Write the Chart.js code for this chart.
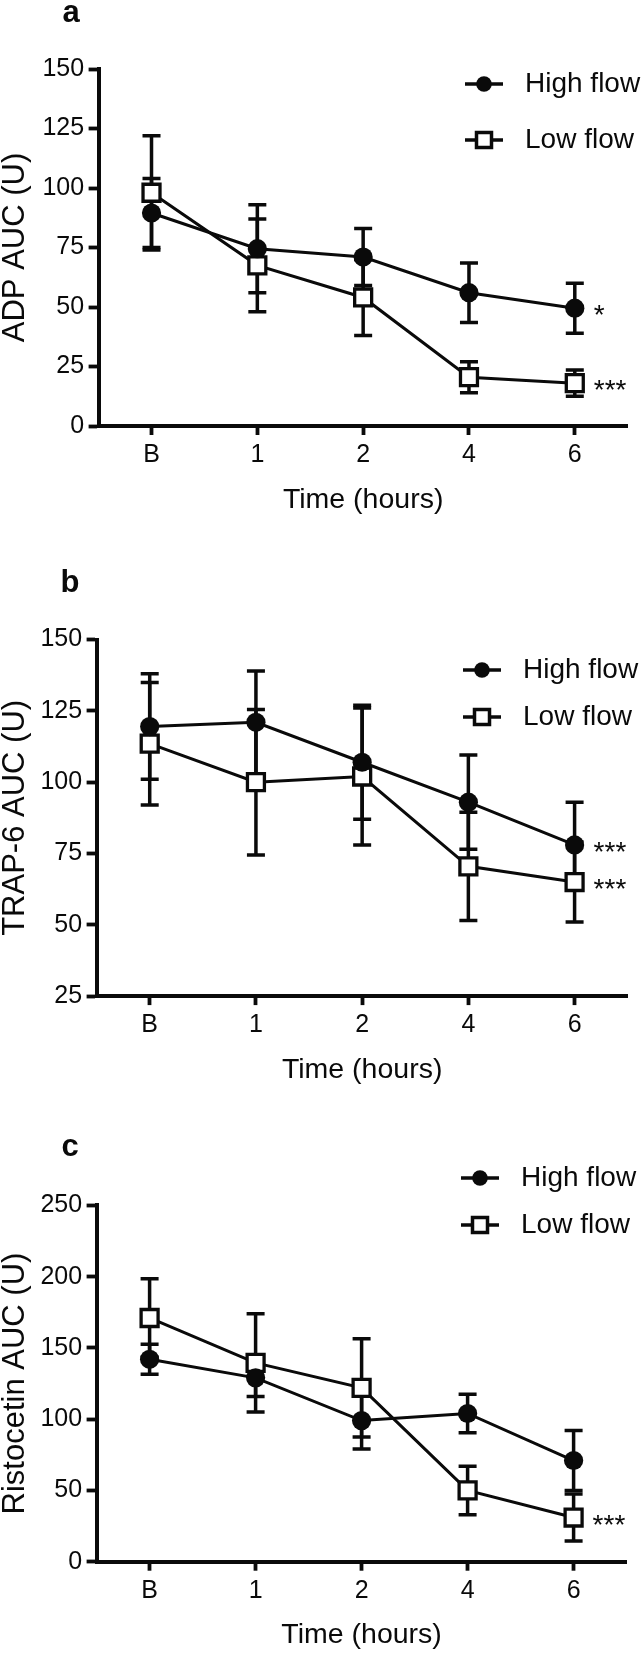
<!DOCTYPE html>
<html>
<head>
<meta charset="utf-8">
<title>Platelet aggregation AUC, high vs low flow</title>
<script src="https://cdn.jsdelivr.net/npm/chart.js@4.4.1/dist/chart.umd.min.js"></script>
<style>
  html, body { margin: 0; padding: 0; background: #fff; }
  #fig { position: relative; width: 643px; height: 1653px; overflow: hidden; }
  #fig canvas { position: absolute; left: 0; }
</style>
</head>
<body>
<div id="fig"></div>
<script>
const INK = '#0a0a0a';
const FONT = "'Liberation Sans', Arial, Helvetica, sans-serif";

// time points
const times = ['B', '1', '2', '4', '6'];

// a: ADP AUC (mean, error)
const adpHigh    = [89.5, 74.5, 71, 56, 49.5];
const adpHighErr = [14.5, 18.5, 12, 12.5, 10.5];
const adpLow     = [98, 67.5, 54, 20.5, 18];
const adpLowErr  = [24, 19.5, 16, 6.5, 5.5];
const adpStars   = ['*', '***'];

// b: TRAP-6 AUC
const trapHigh    = [119.5, 121, 107, 93, 78];
const trapHighErr = [18.5, 18, 20, 16.5, 15];
const trapLow     = [113.5, 100, 102, 70.5, 65];
const trapLowErr  = [21.5, 25.5, 24, 19, 14];
const trapStars   = ['***', '***'];

// c: Ristocetin AUC
const ristoHigh    = [142, 129, 99, 104, 71];
const ristoHighErr = [10.5, 13, 20, 13.5, 21];
const ristoLow     = [171, 139.5, 122, 50, 31];
const ristoLowErr  = [27.5, 34.5, 34.5, 17, 16.5];
const ristoStars   = [null, '***'];

// page layout of the three panels (page pixels)
const PANELS = [
  { letter: 'a', top: 0, height: 530, yTitle: 'ADP AUC (U)', yMin: 0, yMax: 150, yStep: 25,
    high: adpHigh, highErr: adpHighErr, low: adpLow, lowErr: adpLowErr, stars: adpStars,
    area: { left: 98.6, right: 633, top: 69, bottom: 426 }, xTitleY: 500,
    letterX: 71, letterY: 22, legendX: 484, legendY: [84, 140] },
  { letter: 'b', top: 530, height: 570, yTitle: 'TRAP-6 AUC (U)', yMin: 25, yMax: 150, yStep: 25,
    high: trapHigh, highErr: trapHighErr, low: trapLow, lowErr: trapLowErr, stars: trapStars,
    area: { left: 96.6, right: 629.5, top: 639.6, bottom: 996.1 }, xTitleY: 1070,
    letterX: 70, letterY: 592, legendX: 482, legendY: [670, 717] },
  { letter: 'c', top: 1100, height: 553, yTitle: 'Ristocetin AUC (U)', yMin: 0, yMax: 250, yStep: 50,
    high: ristoHigh, highErr: ristoHighErr, low: ristoLow, lowErr: ristoLowErr, stars: ristoStars,
    area: { left: 96.6, right: 626.6, top: 1205.4, bottom: 1561.7 }, xTitleY: 1635.6,
    letterX: 70, letterY: 1156, legendX: 480, legendY: [1178, 1225] },
];

const CAP = 9;

// vertical error bars with caps, under the lines and markers
const errorBars = {
  id: 'errorBars',
  beforeDatasetsDraw(chart) {
    const { ctx, scales: { x, y } } = chart;
    ctx.save();
    ctx.strokeStyle = INK;
    ctx.lineWidth = 3.5;
    chart.data.datasets.forEach(ds => {
      ds.errors.forEach((e, i) => {
        const px = x.getPixelForValue(i);
        const top = y.getPixelForValue(ds.data[i] + e);
        const bot = y.getPixelForValue(ds.data[i] - e);
        ctx.beginPath();
        ctx.moveTo(px, top); ctx.lineTo(px, bot);
        ctx.moveTo(px - CAP, top); ctx.lineTo(px + CAP, top);
        ctx.moveTo(px - CAP, bot); ctx.lineTo(px + CAP, bot);
        ctx.stroke();
      });
    });
    ctx.restore();
  }
};

// panel letter, significance stars and the line+marker legend
const decor = {
  id: 'decor',
  afterDraw(chart, args, opts) {
    const { ctx, scales: { x, y } } = chart;
    ctx.save();
    ctx.fillStyle = INK;
    ctx.strokeStyle = INK;

    ctx.font = `bold 31px ${FONT}`;
    ctx.textAlign = 'center';
    ctx.textBaseline = 'alphabetic';
    ctx.fillText(opts.letter, opts.letterX, opts.letterY);

    ctx.font = `28px ${FONT}`;
    ctx.textAlign = 'left';
    const last = chart.data.labels.length - 1;
    chart.data.datasets.forEach(ds => {
      if (!ds.stars) return;
      ctx.fillText(ds.stars, x.getPixelForValue(last) + 19, y.getPixelForValue(ds.data[last]) + 16);
    });

    ctx.font = `28px ${FONT}`;
    ctx.textBaseline = 'middle';
    ctx.lineWidth = 3.5;
    chart.data.datasets.forEach((ds, i) => {
      const lx = opts.legendX, ly = opts.legendY[i];
      ctx.beginPath();
      ctx.moveTo(lx - 19, ly); ctx.lineTo(lx + 19, ly);
      ctx.stroke();
      if (ds.pointStyle === 'rect') {
        ctx.fillStyle = '#fff';
        ctx.fillRect(lx - 7.5, ly - 7.5, 15, 15);
        ctx.strokeRect(lx - 7.5, ly - 7.5, 15, 15);
        ctx.fillStyle = INK;
      } else {
        ctx.beginPath();
        ctx.arc(lx, ly, 7.8, 0, Math.PI * 2);
        ctx.fill();
      }
      ctx.fillText(ds.label, lx + 41, ly);
    });
    ctx.restore();
  }
};

function makePanel(p) {
  const canvas = document.createElement('canvas');
  canvas.width = 643;
  canvas.height = p.height;
  canvas.style.top = p.top + 'px';
  document.getElementById('fig').appendChild(canvas);

  const a = p.area;
  const titleLocal = p.xTitleY - p.top;
  const padBottom = p.height - titleLocal - 14;
  const xAxisH = titleLocal + 14 - (a.bottom - p.top);
  const local = v => v - p.top;

  new Chart(canvas, {
    type: 'line',
    data: {
      labels: times,
      datasets: [
        { label: 'High flow', data: p.high, errors: p.highErr, stars: p.stars[0],
          borderColor: INK, borderWidth: 3, tension: 0, fill: false,
          pointStyle: 'circle', pointRadius: 9.6, pointBackgroundColor: INK, pointBorderWidth: 0 },
        { label: 'Low flow', data: p.low, errors: p.lowErr, stars: p.stars[1],
          borderColor: INK, borderWidth: 3, tension: 0, fill: false,
          pointStyle: 'rect', pointRadius: 12, pointBackgroundColor: '#fff',
          pointBorderColor: INK, pointBorderWidth: 3.3 },
      ]
    },
    options: {
      responsive: false,
      animation: false,
      events: [],
      layout: { padding: { top: local(a.top), left: 0, right: 643 - a.right, bottom: padBottom } },
      scales: {
        x: {
          type: 'category',
          offset: true,
          grid: { offset: false, drawOnChartArea: false, tickLength: 9, tickWidth: 3.8, tickColor: INK },
          border: { color: INK, width: 4 },
          ticks: { color: INK, padding: 5, maxRotation: 0, font: { size: 25, family: FONT } },
          title: { display: true, text: 'Time (hours)', color: INK, padding: 0,
                   font: { size: 28.5, family: FONT, lineHeight: 1 } },
          afterFit: s => { s.height = xAxisH; }
        },
        y: {
          min: p.yMin, max: p.yMax,
          grid: { drawOnChartArea: false, tickLength: 10, tickWidth: 3.8, tickColor: INK },
          border: { color: INK, width: 4 },
          ticks: { stepSize: p.yStep, color: INK, padding: 4.5, font: { size: 25, family: FONT } },
          title: { display: true, text: p.yTitle, color: INK, padding: 0,
                   font: { size: 31, family: FONT, lineHeight: 1 } },
          afterFit: s => { s.width = a.left; }
        }
      },
      plugins: {
        legend: { display: false },
        tooltip: { enabled: false },
        decor: {
          letter: p.letter, letterX: p.letterX, letterY: local(p.letterY),
          legendX: p.legendX, legendY: p.legendY.map(local)
        }
      }
    },
    plugins: [errorBars, decor]
  });
}

PANELS.forEach(makePanel);
</script>
</body>
</html>
